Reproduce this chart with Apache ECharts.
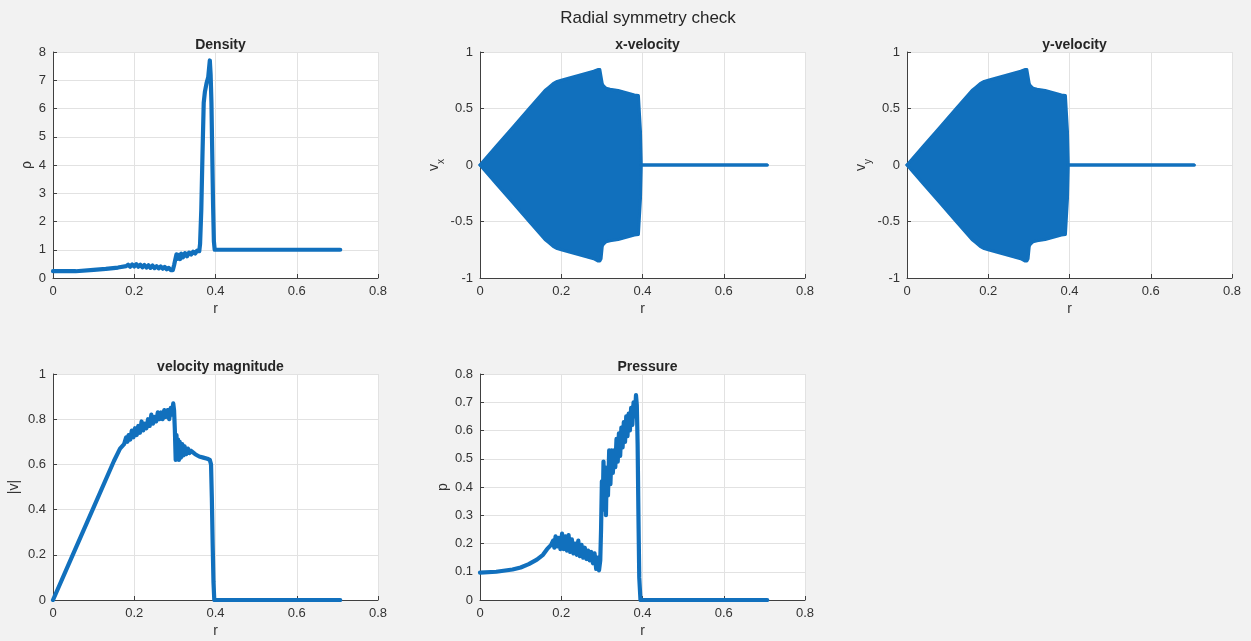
<!DOCTYPE html>
<html>
<head>
<meta charset="utf-8">
<script src="https://cdn.jsdelivr.net/npm/echarts@6/dist/echarts.min.js"></script>
<style>
  html, body { margin: 0; padding: 0; background: #f2f2f2; }
  #chart { width: 1251px; height: 641px; }
</style>
</head>
<body>
<div id="chart"></div>
<script>
// ---- Density profile rho(r) ----
const rDensity = [0, 0.056, 0.058, 0.10, 0.13, 0.16, 0.18, 0.185, 0.19, 0.195, 0.20, 0.205, 0.21, 0.215, 0.22, 0.225, 0.23, 0.235, 0.24, 0.245, 0.25, 0.255, 0.26, 0.265, 0.27, 0.275, 0.28, 0.285, 0.29, 0.295, 0.298, 0.301, 0.304, 0.307, 0.31, 0.313, 0.316, 0.32, 0.325, 0.33, 0.335, 0.34, 0.345, 0.35, 0.355, 0.36, 0.362, 0.365, 0.368, 0.371, 0.374, 0.378, 0.382, 0.386, 0.388, 0.390, 0.392, 0.394, 0.396, 0.398, 0.707];
const density  = [0.24, 0.24, 0.27, 0.29, 0.32, 0.37, 0.42, 0.47, 0.40, 0.48, 0.41, 0.49, 0.40, 0.47, 0.38, 0.46, 0.37, 0.45, 0.36, 0.44, 0.35, 0.42, 0.34, 0.41, 0.33, 0.39, 0.31, 0.36, 0.28, 0.28, 0.45, 0.65, 0.84, 0.68, 0.82, 0.67, 0.86, 0.73, 0.88, 0.77, 0.90, 0.83, 0.93, 0.87, 0.97, 0.95, 1.2, 2.4, 4.4, 6.2, 6.6, 6.9, 7.1, 7.7, 7.2, 6.2, 4.4, 2.6, 1.3, 1.0, 1.0];

// ---- Velocity components: envelope of the scattered cloud ----
const rVelEnv   = [0, 0.04, 0.08, 0.12, 0.16, 0.17, 0.18, 0.19, 0.20, 0.22, 0.24, 0.26, 0.28, 0.29, 0.295, 0.298, 0.301, 0.304, 0.31, 0.32, 0.34, 0.36, 0.38, 0.39, 0.393, 0.395, 0.397, 0.707];
const vxUpper   = [0, 0.165, 0.33, 0.495, 0.66, 0.69, 0.72, 0.74, 0.75, 0.77, 0.79, 0.81, 0.83, 0.845, 0.845, 0.83, 0.72, 0.70, 0.68, 0.67, 0.66, 0.64, 0.62, 0.615, 0.60, 0.30, 0, 0];
const vxLower   = [0, -0.165, -0.33, -0.495, -0.66, -0.69, -0.72, -0.74, -0.75, -0.77, -0.79, -0.81, -0.83, -0.85, -0.85, -0.83, -0.72, -0.70, -0.68, -0.67, -0.66, -0.64, -0.62, -0.615, -0.60, -0.30, 0, 0];
const vyUpper   = [0, 0.165, 0.33, 0.495, 0.66, 0.69, 0.72, 0.74, 0.75, 0.77, 0.79, 0.81, 0.83, 0.845, 0.845, 0.83, 0.72, 0.70, 0.68, 0.67, 0.66, 0.64, 0.62, 0.615, 0.60, 0.30, 0, 0];
const vyLower   = [0, -0.165, -0.33, -0.495, -0.66, -0.69, -0.72, -0.74, -0.75, -0.77, -0.79, -0.81, -0.83, -0.85, -0.85, -0.83, -0.72, -0.70, -0.68, -0.67, -0.66, -0.64, -0.62, -0.615, -0.60, -0.30, 0, 0];

// ---- Velocity magnitude |v|(r) ----
const rSpeed = [0, 0.05, 0.10, 0.15, 0.165, 0.175, 0.18, 0.183, 0.186, 0.19, 0.194, 0.198, 0.202, 0.206, 0.21, 0.214, 0.218, 0.222, 0.226, 0.23, 0.234, 0.238, 0.242, 0.246, 0.25, 0.254, 0.258, 0.262, 0.266, 0.27, 0.274, 0.278, 0.282, 0.286, 0.29, 0.293, 0.296, 0.298, 0.300, 0.302, 0.304, 0.306, 0.308, 0.31, 0.312, 0.315, 0.318, 0.321, 0.324, 0.328, 0.332, 0.336, 0.34, 0.35, 0.36, 0.37, 0.38, 0.386, 0.389, 0.391, 0.393, 0.395, 0.397, 0.707];
const speed  = [0, 0.205, 0.41, 0.615, 0.67, 0.69, 0.72, 0.70, 0.73, 0.71, 0.75, 0.72, 0.76, 0.73, 0.77, 0.74, 0.79, 0.75, 0.78, 0.76, 0.80, 0.77, 0.82, 0.78, 0.81, 0.79, 0.83, 0.80, 0.83, 0.80, 0.84, 0.81, 0.84, 0.80, 0.85, 0.82, 0.87, 0.84, 0.75, 0.62, 0.73, 0.63, 0.71, 0.62, 0.70, 0.63, 0.69, 0.64, 0.68, 0.645, 0.67, 0.65, 0.66, 0.645, 0.635, 0.63, 0.625, 0.62, 0.60, 0.45, 0.25, 0.08, 0, 0];

// ---- Pressure p(r) ----
const rPressure = [0, 0.04, 0.08, 0.10, 0.12, 0.14, 0.155, 0.165, 0.175, 0.18, 0.183, 0.186, 0.19, 0.194, 0.198, 0.202, 0.206, 0.21, 0.214, 0.218, 0.222, 0.226, 0.23, 0.234, 0.238, 0.242, 0.246, 0.25, 0.254, 0.258, 0.262, 0.266, 0.27, 0.274, 0.278, 0.282, 0.286, 0.29, 0.293, 0.296, 0.298, 0.300, 0.302, 0.304, 0.306, 0.308, 0.310, 0.312, 0.315, 0.318, 0.321, 0.324, 0.327, 0.33, 0.333, 0.336, 0.339, 0.342, 0.345, 0.348, 0.351, 0.354, 0.357, 0.36, 0.363, 0.366, 0.369, 0.372, 0.375, 0.378, 0.381, 0.384, 0.386, 0.388, 0.390, 0.392, 0.395, 0.707];
const pressure  = [0.097, 0.100, 0.108, 0.115, 0.127, 0.143, 0.16, 0.18, 0.195, 0.21, 0.185, 0.225, 0.19, 0.22, 0.18, 0.235, 0.18, 0.225, 0.175, 0.23, 0.17, 0.215, 0.165, 0.20, 0.16, 0.21, 0.155, 0.195, 0.15, 0.185, 0.145, 0.175, 0.14, 0.17, 0.13, 0.165, 0.11, 0.15, 0.105, 0.14, 0.25, 0.42, 0.32, 0.49, 0.35, 0.47, 0.30, 0.46, 0.37, 0.53, 0.41, 0.53, 0.45, 0.53, 0.47, 0.57, 0.49, 0.59, 0.51, 0.61, 0.54, 0.63, 0.56, 0.65, 0.58, 0.66, 0.60, 0.68, 0.62, 0.70, 0.65, 0.725, 0.69, 0.55, 0.30, 0.08, 0, 0];

// ---- Axis ticks ----
const rTicks = { min: 0, max: 0.8, interval: 0.2 };
const densityTicks = { min: 0, max: 8, interval: 1 };
const velTicks = { min: -1, max: 1, interval: 0.5 };
const speedTicks = { min: 0, max: 1, interval: 0.2 };
const pressureTicks = { min: 0, max: 0.8, interval: 0.1 };

const BLUE = '#1170bd';
const INK = '#333333';
const FONT = '"Liberation Sans", Arial, Helvetica, sans-serif';

const zip = (xs, ys) => xs.map((x, i) => [x, ys[i]]);

// panel layout (pixels)
const panels = [
  { left: 53,  top: 52,  title: 'Density' },
  { left: 480, top: 52,  title: 'x-velocity' },
  { left: 907, top: 52,  title: 'y-velocity' },
  { left: 53,  top: 374, title: 'velocity magnitude' },
  { left: 480, top: 374, title: 'Pressure' }
];
const PW = 325, PH = 226;

function xAxisFor(i) {
  return {
    type: 'value', gridIndex: i, min: rTicks.min, max: rTicks.max, interval: rTicks.interval,
    name: 'r', nameLocation: 'middle', nameGap: 24,
    nameTextStyle: { fontSize: 14, color: INK, fontFamily: FONT },
    axisLine: { show: true, onZero: false, lineStyle: { color: '#404040', width: 1 } },
    axisTick: { show: true, inside: true, length: 4, lineStyle: { color: '#404040' } },
    axisLabel: { fontSize: 13, color: INK, margin: 7, fontFamily: FONT },
    splitLine: { show: true, lineStyle: { color: '#e2e2e2', width: 1 } }
  };
}
function yAxisFor(i, ticks, name, gap, rich) {
  return {
    type: 'value', gridIndex: i, min: ticks.min, max: ticks.max, interval: ticks.interval,
    name: name, nameLocation: 'middle', nameGap: gap, nameRotate: 90,
    nameTextStyle: Object.assign({ fontSize: 14, color: INK, fontFamily: FONT }, rich ? { rich: rich } : {}),
    axisLine: { show: true, onZero: false, lineStyle: { color: '#404040', width: 1 } },
    axisTick: { show: true, inside: true, length: 4, lineStyle: { color: '#404040' } },
    axisLabel: { fontSize: 13, color: INK, margin: 7, fontFamily: FONT,
      formatter: v => String(Math.round(v * 1000) / 1000) },
    splitLine: { show: true, lineStyle: { color: '#e2e2e2', width: 1 } }
  };
}

const subRich = {
  b: { fontSize: 14, color: INK, fontFamily: FONT, lineHeight: 18 },
  s: { fontSize: 10, color: INK, fontFamily: FONT, lineHeight: 18, verticalAlign: 'bottom', padding: [0, 0, -4, 0] }
};

function curve(i, data, width) {
  return {
    type: 'line', xAxisIndex: i, yAxisIndex: i, data: data,
    showSymbol: false, symbol: 'none', silent: true,
    lineStyle: { color: BLUE, width: width, join: 'round', cap: 'round' }
  };
}
function cloud(i, data) {
  return {
    type: 'line', xAxisIndex: i, yAxisIndex: i, data: data,
    showSymbol: false, symbol: 'none', silent: true,
    lineStyle: { color: BLUE, width: 3, join: 'round', cap: 'round' },
    areaStyle: { color: BLUE, opacity: 1, origin: 0 }
  };
}

const option = {
  backgroundColor: '#f2f2f2',
  animation: false,
  title: [
    { text: 'Radial symmetry check', left: 643, top: 5, textAlign: 'center',
      textStyle: { fontSize: 17, fontWeight: 'normal', color: '#262626', fontFamily: FONT } }
  ].concat(panels.map(p => ({
    text: p.title, left: p.left + PW / 2, top: p.top - 19, textAlign: 'center',
    textStyle: { fontSize: 14, fontWeight: 'bold', color: '#262626', fontFamily: FONT }
  }))),
  grid: panels.map(p => ({ left: p.left, top: p.top, width: PW, height: PH, containLabel: false,
    show: true, backgroundColor: '#ffffff', borderWidth: 0 })),
  xAxis: panels.map((p, i) => xAxisFor(i)),
  yAxis: [
    yAxisFor(0, densityTicks, 'ρ', 19),
    yAxisFor(1, velTicks, '{b|v}{s|x}', 36, subRich),
    yAxisFor(2, velTicks, '{b|v}{s|y}', 36, subRich),
    yAxisFor(3, speedTicks, '|v|', 32),
    yAxisFor(4, pressureTicks, 'p', 30)
  ],
  series: [
    curve(0, zip(rDensity, density), 4.2),
    cloud(1, zip(rVelEnv, vxUpper)),
    cloud(1, zip(rVelEnv, vxLower)),
    cloud(2, zip(rVelEnv, vyUpper)),
    cloud(2, zip(rVelEnv, vyLower)),
    curve(3, zip(rSpeed, speed), 4.2),
    curve(4, zip(rPressure, pressure), 4.2)
  ]
};

const chart = echarts.init(document.getElementById('chart'), null, { renderer: 'canvas' });
chart.setOption(option);
</script>
</body>
</html>
